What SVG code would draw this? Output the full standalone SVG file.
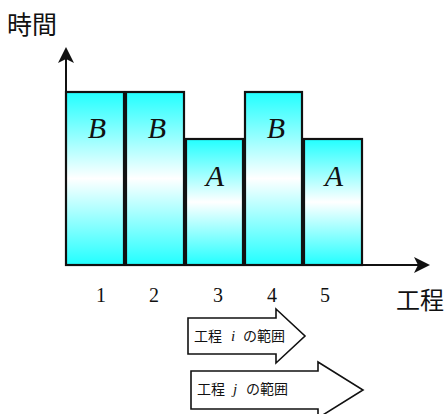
<svg xmlns="http://www.w3.org/2000/svg" width="448" height="414" viewBox="0 0 448 414">
<style>
.bar{stroke:#111;stroke-width:2.2;fill:url(#g)}
.lbl{font-family:"Liberation Serif",serif;font-style:italic;font-size:30px;fill:#111;text-anchor:middle}
.num{font-family:"Liberation Serif",serif;font-size:20px;fill:#111;text-anchor:middle}
.jp{font-family:"Noto Sans CJK JP",sans-serif;fill:#111}
.sm{font-size:14px}
.axis{stroke:#111;stroke-width:2;fill:none}
.arr{fill:#fff;stroke:#111;stroke-width:1.6}
.it{font-family:"Liberation Serif",serif;font-style:italic;font-size:15px;fill:#111}
</style>
<defs>
<linearGradient id="g" x1="0" y1="0" x2="0" y2="1">
<stop offset="0" stop-color="#22ffff"/>
<stop offset="0.5" stop-color="#ffffff"/>
<stop offset="1" stop-color="#22ffff"/>
</linearGradient>
<marker id="ah" markerWidth="16" markerHeight="16" refX="14" refY="8" orient="auto" markerUnits="userSpaceOnUse">
<path d="M0,0 L16,8 L0,16 L4,8 Z" fill="#111"/>
</marker>
</defs>
<g id="axes">
<line class="axis" x1="66" y1="265" x2="66" y2="49" marker-end="url(#ah)"/>
<line class="axis" x1="65" y1="265" x2="428" y2="265" marker-end="url(#ah)"/>
</g>
<g id="bar1"><rect class="bar" x="66" y="92" width="58" height="173"/><text class="lbl" x="97" y="138">B</text></g>
<g id="bar2"><rect class="bar" x="126" y="92" width="58" height="173"/><text class="lbl" x="157" y="138">B</text></g>
<g id="bar3"><rect class="bar" x="186" y="139" width="57" height="126"/><text class="lbl" x="215" y="186">A</text></g>
<g id="bar4"><rect class="bar" x="245" y="92" width="57" height="173"/><text class="lbl" x="276" y="138">B</text></g>
<g id="bar5"><rect class="bar" x="304" y="139" width="58" height="126"/><text class="lbl" x="334" y="186">A</text></g>
<g id="ticks">
<text class="num" x="101" y="302">1</text>
<text class="num" x="154" y="302">2</text>
<text class="num" x="218" y="302">3</text>
<text class="num" x="272" y="302">4</text>
<text class="num" x="325" y="302">5</text>
</g>
<g id="ylabel"><text class="jp" x="7" y="34" font-size="25">時間</text></g>
<g id="xlabel"><text class="jp" x="396" y="309" font-size="24">工程</text></g>
<g id="range-i">
<path class="arr" d="M188,318 L276,318 L276,309 L305,336 L276,363 L276,354 L188,354 Z"/>
<text class="jp sm" x="194" y="341">工程<tspan class="it" x="231">i</tspan><tspan x="243">の範囲</tspan></text>
</g>
<g id="range-j">
<path class="arr" d="M191,371 L318,371 L318,362 L363,390 L318,418 L318,409 L191,409 Z"/>
<text class="jp sm" x="197" y="394">工程<tspan class="it" x="233">j</tspan><tspan x="246">の範囲</tspan></text>
</g>
</svg>
